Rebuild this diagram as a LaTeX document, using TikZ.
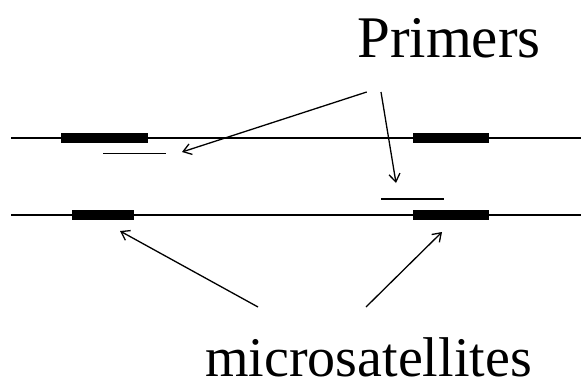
\documentclass[tikz,border=0pt]{standalone}
\usepackage{fontspec}
\setmainfont{Liberation Serif}
\usetikzlibrary{arrows.meta}
\begin{document}
\begin{tikzpicture}[x=1pt,y=-1pt,
  strand/.style={line width=1.6pt},
  primer/.style={line width=1.5pt},
  satbox/.style={fill=black,draw=none,minimum height=10.5pt,inner sep=0pt},
  pointer/.style={line width=1.3pt,-{Straight Barb[length=8pt,width=11pt,line width=1.3pt]}},
  label/.style={inner sep=0pt,anchor=base west}]
\useasboundingbox (0,0) rectangle (581,381);
% strands
\coordinate (s1a) at (11,138);
\coordinate (s1b) at (581,138);
\coordinate (s2a) at (11,215);
\coordinate (s2b) at (581,215);
\draw[strand] (s1a) -- (s1b);
\draw[strand] (s2a) -- (s2b);
% microsatellite boxes
\node[satbox,minimum width=87pt] (b1l) at (104.5,138) {};
\node[satbox,minimum width=76.6pt] (b1r) at (451,138) {};
\node[satbox,minimum width=61.5pt] (b2l) at (103,215) {};
\node[satbox,minimum width=76.6pt] (b2r) at (451,215) {};
% primers
\coordinate (p1a) at (103,153.5);
\coordinate (p1b) at (166,153.5);
\coordinate (p2a) at (381,199);
\coordinate (p2b) at (444,199);
\draw[primer] (p1a) -- (p1b);
\draw[primer] (p2a) -- (p2b);
% labels
\node[label,font=\fontsize{59}{59}\selectfont] (prm) at (357,57) {Primers};
\node[label,font=\fontsize{56}{56}\selectfont] (mic) at (205,376) {microsatellites};
% arrow ends
\coordinate (a1s) at (366.7,92);
\coordinate (a1e) at (182,152);
\coordinate (a2s) at (381,92);
\coordinate (a2e) at (396,183);
\coordinate (a3s) at (258,307);
\coordinate (a3e) at (120,231);
\coordinate (a4s) at (366,307);
\coordinate (a4e) at (442,232);
\draw[pointer] (a1s) -- (a1e);
\draw[pointer] (a2s) -- (a2e);
\draw[pointer] (a3s) -- (a3e);
\draw[pointer] (a4s) -- (a4e);
\end{tikzpicture}
\end{document}
